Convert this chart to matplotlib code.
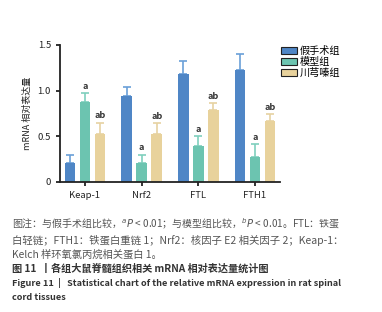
import matplotlib
matplotlib.use("Agg")
import matplotlib.pyplot as plt
import numpy as np

plt.rcParams['font.family'] = ['Noto Sans CJK SC', 'DejaVu Sans']

genes = ["Keap-1", "Nrf2", "FTL", "FTH1"]
groups = ["假手术组", "模型组", "川芎嗪组"]
sham = [0.21, 0.94, 1.18, 1.22]
sham_err = [0.08, 0.10, 0.14, 0.18]
model = [0.88, 0.21, 0.39, 0.27]
model_err = [0.09, 0.09, 0.11, 0.14]
tmp = [0.53, 0.53, 0.785, 0.67]
tmp_err = [0.12, 0.11, 0.075, 0.07]
model_sig = ["a", "a", "a", "a"]
tmp_sig = ["ab", "ab", "ab", "ab"]

colors = ["#4f86c6", "#6cc4b0", "#e8d29c"]
ecolors = ["#6a9fd8", "#7fcfbd", "#e6d2a2"]

fig = plt.figure(figsize=(3.82, 3.12), dpi=100)
ax = fig.add_axes([0.157, 0.417, 0.576, 0.439])

x = np.arange(len(genes))
w = 0.19
off = 0.265
series = [(sham, sham_err, None), (model, model_err, model_sig), (tmp, tmp_err, tmp_sig)]
for i, (vals, errs, sig) in enumerate(series):
    pos = x + (i - 1) * off
    ax.bar(pos, vals, w, color=colors[i], label=groups[i], zorder=2)
    ax.errorbar(pos, vals, yerr=[np.zeros(len(vals)), errs], fmt='none',
                ecolor=ecolors[i], elinewidth=1.2, capsize=3, capthick=1.2, zorder=1)
    if sig:
        for p, v, e, s in zip(pos, vals, errs, sig):
            ax.text(p, v + e + 0.03, s, ha='center', va='bottom', fontsize=6.5,
                    color='#333333', fontweight='bold')

ax.set_xlim(-0.44, 3.44)
ax.set_ylim(0, 1.5)
ax.set_yticks([0, 0.5, 1.0, 1.5])
ax.set_yticklabels(["0", "0.5", "1.0", "1.5"])
ax.set_xticks(x)
ax.set_xticklabels(genes)
ax.tick_params(axis='both', labelsize=6.8, width=1.3, length=3, colors='#222222')
for s in ['top', 'right']:
    ax.spines[s].set_visible(False)
for s in ['left', 'bottom']:
    ax.spines[s].set_linewidth(1.3)
    ax.spines[s].set_color('#222222')
ax.set_ylabel("mRNA 相对表达量", fontsize=6.5, color='#222222')

leg = ax.legend(loc='upper left', bbox_to_anchor=(0.98, 1.03), frameon=False,
                fontsize=7.3, handlelength=1.6, handleheight=0.8, labelspacing=0.1,
                handletextpad=0.3, borderpad=0)
for h in leg.legend_handles:
    h.set_edgecolor('#222222')
    h.set_linewidth(0.8)

note_color = '#555555'
fig.text(0.032, 1 - 224/312, "图注：与假手术组比较，$^{a}$$\\it{P}$ < 0.01；与模型组比较，$^{b}$$\\it{P}$ < 0.01。FTL：铁蛋",
         fontsize=7.2, color=note_color, va='center')
fig.text(0.032, 1 - 240/312, "白轻链；FTH1：铁蛋白重链 1；Nrf2：核因子 E2 相关因子 2；Keap-1：",
         fontsize=7.5, color=note_color, va='center')
fig.text(0.032, 1 - 254/312, "Kelch 样环氧氯丙烷相关蛋白 1。",
         fontsize=7.4, color=note_color, va='center')
fig.text(0.032, 1 - 269/312, "图 11  丨各组大鼠脊髓组织相关 mRNA 相对表达量统计图",
         fontsize=7.3, color='#333333', va='center', fontweight='bold')
fig.text(0.032, 1 - 283/312, "Figure 11  |   Statistical chart of the relative mRNA expression in rat spinal",
         fontsize=6.6, color='#333333', va='center', fontweight='bold')
fig.text(0.032, 1 - 297/312, "cord tissues",
         fontsize=6.6, color='#333333', va='center', fontweight='bold')

fig.savefig("out.png", dpi=100)
